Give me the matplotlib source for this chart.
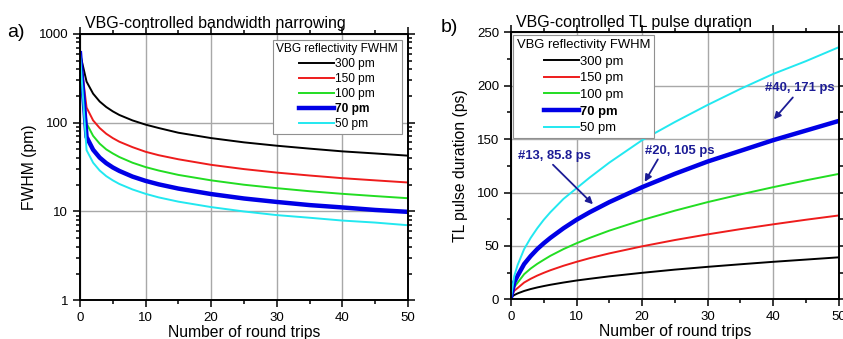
import matplotlib
matplotlib.use("Agg")
import matplotlib.pyplot as plt
from matplotlib.ticker import MultipleLocator, LogLocator, NullFormatter, FixedLocator

plt.rcParams['font.family'] = ['Liberation Sans', 'DejaVu Sans']

# ---------------- data ----------------
labels = ["300 pm", "150 pm", "100 pm", "70 pm", "50 pm"]
colors = ["#000000", "#ee1c1c", "#22dd22", "#0000e6", "#22e8f0"]
widths = [1.4, 1.4, 1.4, 3.2, 1.4]

rounds_a = [0, 1, 2, 3, 4, 5, 6, 8, 10, 12, 15, 20, 25, 30, 35, 40, 45, 50]
fwhm_300 = [604, 290, 212, 173, 150, 134, 122, 106, 95, 87, 77, 67, 60, 55, 51, 47.5, 45, 42.5]
fwhm_150 = [604, 148, 106, 87, 75, 67, 61, 53, 47, 43, 38.7, 33.5, 30, 27.4, 25.4, 23.7, 22.4, 21.2]
fwhm_100 = [604, 98, 71, 58, 50, 45, 41, 35.4, 31.6, 28.9, 25.8, 22.4, 20, 18.3, 16.9, 15.8, 14.9, 14.1]
fwhm_70 = [604, 69, 49.5, 40.4, 35, 31.3, 28.6, 24.7, 22.1, 20.2, 18.1, 15.7, 14, 12.8, 11.8, 11.1, 10.4, 9.9]
fwhm_50 = [604, 49, 35.4, 28.9, 25, 22.4, 20.4, 17.7, 15.8, 14.4, 12.9, 11.2, 10, 9.1, 8.5, 7.9, 7.5, 7.0]

rounds_b = [0, 0.5, 1, 2, 3, 4, 5, 6, 8, 10, 12, 15, 20, 25, 30, 35, 40, 45, 50]
tl_300 = [2, 4, 5.5, 7.8, 9.6, 11.1, 12.4, 13.6, 15.7, 17.6, 19.2, 21.5, 24.8, 27.8, 30.4, 32.8, 35.1, 37.2, 39.3]
tl_150 = [2, 8, 10.5, 15.7, 19.2, 22.2, 24.8, 27.2, 31.4, 35.1, 38.5, 43, 49.6, 55.5, 60.8, 65.7, 70.2, 74.5, 78.5]
tl_100 = [2, 11.5, 15.5, 23.5, 28.8, 33.2, 37, 40.7, 47, 52.5, 57.5, 64.3, 74.2, 83, 91, 98.2, 105, 111.4, 117.4]
tl_70 = [2, 16, 22, 33, 40.5, 47, 52.5, 57.5, 66.5, 74.5, 81.5, 91, 105, 117.5, 129, 139, 149, 158, 167]
tl_50 = [2, 22, 32, 47, 57.5, 66.5, 74.5, 81.5, 94, 104, 114, 128, 149, 166, 182, 197, 211, 223, 236]

annot_text = ["#13, 85.8 ps", "#20, 105 ps", "#40, 171 ps"]
annot_head = [(12.5, 89), (20.4, 110), (40.1, 168.5)]
annot_tail = [(6.4, 126), (22.4, 131), (43.0, 189)]
annot_pos = [(6.7, 134), (25.8, 139), (44.1, 198)]
annot_color = "#1c1c96"

# ---------------- figure ----------------
fig = plt.figure(figsize=(8.43, 3.39), dpi=100)
axA = fig.add_axes([0.0949, 0.1142, 0.389, 0.786])
axB = fig.add_axes([0.6062, 0.1171, 0.3887, 0.7876])

grid_kw = dict(color="#a8a8a8", linewidth=1.0)

def style(ax):
    for s in ax.spines.values():
        s.set_linewidth(1.4)
    ax.tick_params(which='both', direction='out', top=True, right=True,
                   labelsize=9.5, width=1.1)
    ax.tick_params(which='major', length=5)
    ax.tick_params(which='minor', length=3)
    ax.set_axisbelow(True)

# ----- panel a -----
fa = [fwhm_300, fwhm_150, fwhm_100, fwhm_70, fwhm_50]
for y, lab, c, w in zip(fa, labels, colors, widths):
    axA.plot(rounds_a, y, color=c, lw=w, label=lab, solid_joinstyle='round')
axA.set_yscale('log')
axA.set_xlim(0, 50)
axA.set_ylim(1, 1000)
axA.xaxis.set_major_locator(MultipleLocator(10))
axA.xaxis.set_minor_locator(MultipleLocator(5))
axA.yaxis.set_major_locator(FixedLocator([1, 10, 100, 1000]))
axA.yaxis.set_minor_locator(LogLocator(base=10, subs=range(2, 10)))
axA.yaxis.set_minor_formatter(NullFormatter())
axA.set_yticklabels(["1", "10", "100", "1000"])
axA.grid(True, which='major', **grid_kw)
style(axA)
axA.set_xlabel("Number of round trips", fontsize=11.3, labelpad=1)
axA.set_ylabel("FWHM (pm)", fontsize=11.3)
axA.yaxis.set_label_coords(-0.131, 0.5)
axA.set_title("VBG-controlled bandwidth narrowing", fontsize=11.5, pad=4, loc='left', x=0.015)
legA = axA.legend(title="VBG reflectivity FWHM", loc='upper right', bbox_to_anchor=(0.981, 0.978),
                  fontsize=8.6, title_fontsize=8.6, frameon=True, fancybox=False, framealpha=1,
                  edgecolor="#909090", borderaxespad=0, labelspacing=0.25, handlelength=2.9,
                  handletextpad=0.1, borderpad=0.3)
legA.get_frame().set_linewidth(0.8)
legA.get_texts()[3].set_fontweight('bold')
fig.text(0.008, 0.89, "a)", fontsize=14)

# ----- panel b -----
tb = [tl_300, tl_150, tl_100, tl_70, tl_50]
for y, lab, c, w in zip(tb, labels, colors, widths):
    axB.plot(rounds_b, y, color=c, lw=w, label=lab, solid_joinstyle='round')
axB.set_xlim(0, 50)
axB.set_ylim(0, 250)
axB.xaxis.set_major_locator(MultipleLocator(10))
axB.xaxis.set_minor_locator(MultipleLocator(5))
axB.yaxis.set_major_locator(MultipleLocator(50))
axB.yaxis.set_minor_locator(MultipleLocator(25))
axB.grid(True, which='major', **grid_kw)
style(axB)
axB.set_xlabel("Number of round trips", fontsize=11.3, labelpad=1)
axB.set_ylabel("TL pulse duration (ps)", fontsize=11.3)
axB.yaxis.set_label_coords(-0.131, 0.5)
axB.set_title("VBG-controlled TL pulse duration", fontsize=11.5, pad=4, loc='left', x=0.015)
legB = axB.legend(title="VBG reflectivity FWHM", loc='upper left', bbox_to_anchor=(0.006, 0.99),
                  fontsize=9.4, title_fontsize=9.4, frameon=True, fancybox=False, framealpha=1,
                  edgecolor="#909090", borderaxespad=0, labelspacing=0.35, handlelength=2.7,
                  handletextpad=0.1, borderpad=0.3)
legB.get_frame().set_linewidth(0.8)
legB.get_texts()[3].set_fontweight('bold')
fig.text(0.523, 0.905, "b)", fontsize=14)

for txt, head, tail, pos in zip(annot_text, annot_head, annot_tail, annot_pos):
    axB.annotate("", xy=head, xytext=tail,
                 arrowprops=dict(arrowstyle="-|>", color=annot_color, lw=1.3,
                                 mutation_scale=10, shrinkA=0, shrinkB=0))
    axB.text(pos[0], pos[1], txt, color=annot_color, fontsize=9.4,
             fontweight='bold', ha='center', va='center')

fig.savefig("out.png", dpi=100)
